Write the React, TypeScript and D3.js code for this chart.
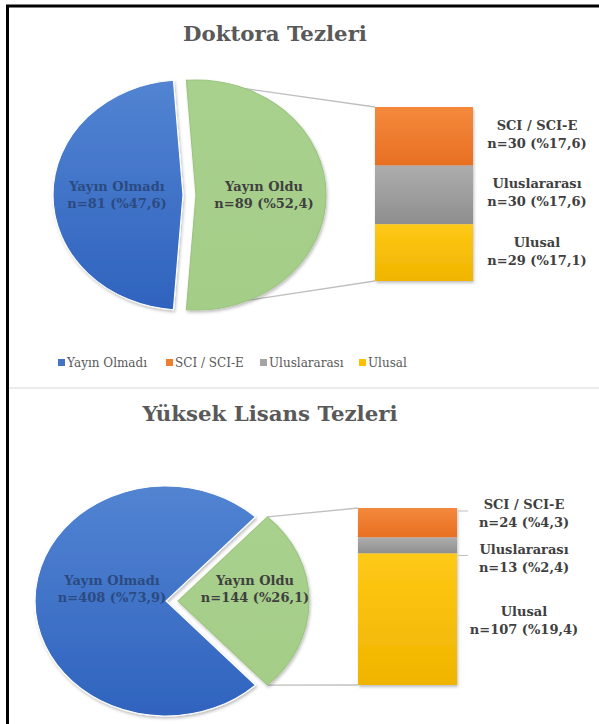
import React from "react";
import * as d3 from "d3";

// ---------- data ----------
const chartTitles = ["Doktora Tezleri", "Yüksek Lisans Tezleri"];
const pieCategories = ["Yayın Olmadı", "Yayın Oldu"];
const barCategories = ["SCI / SCI-E", "Uluslararası", "Ulusal"];
const legendLabels = ["Yayın Olmadı", "SCI / SCI-E", "Uluslararası", "Ulusal"];

const doktoraPieValues = [81, 89];
const doktoraPiePct = ["47,6", "52,4"];
const doktoraBarValues = [30, 30, 29];
const doktoraBarPct = ["17,6", "17,6", "17,1"];

const ylPieValues = [408, 144];
const ylPiePct = ["73,9", "26,1"];
const ylBarValues = [24, 13, 107];
const ylBarPct = ["4,3", "2,4", "19,4"];

// ---------- styling / layout ----------
const W = 599;
const H = 724;
const FONT = "'DejaVu Serif', 'Liberation Serif', serif";
const pieFills = ["url(#gBlue)", "url(#gGreen)"];
const barFills = ["url(#gOrange)", "url(#gGray)", "url(#gYellow)"];
const legendColors = ["#4472C4", "#ED7D31", "#A5A5A5", "#FFC000"];

type Layout = {
  titleX: number; titleY: number;
  cx: number; cy: number; rx: number; ry: number; explode: number;
  barX: number; barW: number; barTop: number; barBottom: number;
  labelX: number; labelDy: number[];
  pieLabelPos: { x: number; y: number }[];
  leaders: boolean;
};

const layouts: Layout[] = [
  {
    titleX: 275, titleY: 33,
    cx: 183, cy: 195, rx: 130, ry: 115, explode: 13,
    barX: 375, barW: 98, barTop: 107, barBottom: 281,
    labelX: 537, labelDy: [-2, -2, -1],
    pieLabelPos: [{ x: 117, y: 195 }, { x: 264, y: 195 }],
    leaders: false,
  },
  {
    titleX: 270, titleY: 413,
    cx: 166, cy: 601, rx: 131, ry: 115, explode: 12,
    barX: 358, barW: 99, barTop: 508, barBottom: 685,
    labelX: 524, labelDy: [-9, 13, 1],
    pieLabelPos: [{ x: 112, y: 589 }, { x: 255, y: 589 }],
    leaders: true,
  },
];

function PieOfBar({ pieValues, piePct, barValues, barPct, title, L }: {
  pieValues: number[]; piePct: string[]; barValues: number[]; barPct: string[]; title: string; L: Layout;
}) {
  const total = d3.sum(pieValues);
  const pGreen = pieValues[1] / total;
  // green slice (second category) centered at 3 o'clock
  const start = Math.PI / 2 - Math.PI * pGreen;
  const pie = d3.pie<number>().sort(null).startAngle(start).endAngle(start + 2 * Math.PI);
  const arcsData = pie([pieValues[1], pieValues[0]]);
  const greenArc = arcsData[0];
  const blueArc = arcsData[1];
  const arc = d3.arc<d3.PieArcDatum<number>>().innerRadius(0).outerRadius(L.ry);
  const k = L.rx / L.ry;
  const gcx = L.cx + L.explode;

  const pt = (a: number) => [gcx + L.rx * Math.sin(a), L.cy - L.ry * Math.cos(a)];
  const pStart = pt(greenArc.startAngle);
  const pEnd = pt(greenArc.endAngle);

  const y = d3.scaleLinear().domain([0, d3.sum(barValues)]).range([L.barTop, L.barBottom]);
  const cum = d3.cumsum(barValues);
  const segs = barValues.map((v, i) => ({ y0: y(cum[i] - v), y1: y(cum[i]) }));

  return (
    <g>
      <text x={L.titleX} y={L.titleY} textAnchor="middle" dominantBaseline="central" fontFamily={FONT} fontWeight="bold" fontSize={21.3} fill="#595959">{title}</text>
      {/* connectors */}
      <line x1={pStart[0]} y1={pStart[1]} x2={L.barX} y2={L.barTop} stroke="#BFBFBF" strokeWidth={1.3} />
      <line x1={pEnd[0]} y1={pEnd[1]} x2={L.barX} y2={L.barBottom} stroke="#BFBFBF" strokeWidth={1.3} />
      {/* pie */}
      <g transform={`translate(${L.cx},${L.cy}) scale(${k},1)`} filter="url(#shadow)">
        <path d={arc(blueArc) || ""} fill={pieFills[0]} stroke="#ffffff" strokeWidth={1} />
      </g>
      <g transform={`translate(${gcx},${L.cy}) scale(${k},1)`} filter="url(#shadow)">
        <path d={arc(greenArc) || ""} fill={pieFills[1]} stroke="#9CC47F" strokeWidth={1} />
      </g>
      {/* pie labels */}
      {pieCategories.map((c, i) => (
        <text key={c} x={L.pieLabelPos[i].x} y={L.pieLabelPos[i].y} textAnchor="middle" fontFamily={FONT} fontWeight="bold" fontSize={13} fill={i === 0 ? "#2B4A80" : "#3F3F3F"}>
          <tspan x={L.pieLabelPos[i].x} dy={-4}>{c}</tspan>
          <tspan x={L.pieLabelPos[i].x} dy={17}>{`n=${pieValues[i]} (%${piePct[i]})`}</tspan>
        </text>
      ))}
      {/* bar */}
      <g filter="url(#shadow)">
        {segs.map((s, i) => (
          <rect key={i} x={L.barX} y={s.y0} width={L.barW} height={s.y1 - s.y0} fill={barFills[i]} />
        ))}
      </g>
      {L.leaders && (
        <g stroke="#BFBFBF" strokeWidth={1}>
          <line x1={L.barX + L.barW + 1} x2={L.barX + L.barW + 11} y1={segs[0].y0 + 3} y2={segs[0].y0 + 3} />
          <line x1={L.barX + L.barW + 1} x2={L.barX + L.barW + 11} y1={segs[1].y1 + 2} y2={segs[1].y1 + 2} />
        </g>
      )}
      {barCategories.map((c, i) => {
        const cyl = (segs[i].y0 + segs[i].y1) / 2 + L.labelDy[i];
        return (
          <text key={c} textAnchor="middle" fontFamily={FONT} fontWeight="bold" fontSize={13} fill="#404040">
            <tspan x={L.labelX} y={cyl - 4.5}>{c}</tspan>
            <tspan x={L.labelX} y={cyl + 13.5}>{`n=${barValues[i]} (%${barPct[i]})`}</tspan>
          </text>
        );
      })}
    </g>
  );
}

const legendX = [58, 166, 260, 359];

export default function App() {
  return (
    <svg width={W} height={H} viewBox={`0 0 ${W} ${H}`} style={{ position: "absolute", left: 0, top: 0, background: "#fff" }}>
      <defs>
        <linearGradient id="gBlue" x1="0" y1="0" x2="0" y2="1">
          <stop offset="0%" stopColor="#5284D2" />
          <stop offset="100%" stopColor="#2F63BE" />
        </linearGradient>
        <linearGradient id="gGreen" x1="0" y1="0" x2="0" y2="1">
          <stop offset="0%" stopColor="#A9D18E" />
          <stop offset="100%" stopColor="#A4CD88" />
        </linearGradient>
        <linearGradient id="gOrange" x1="0" y1="0" x2="0" y2="1">
          <stop offset="0%" stopColor="#F4893C" />
          <stop offset="100%" stopColor="#E86F22" />
        </linearGradient>
        <linearGradient id="gGray" x1="0" y1="0" x2="0" y2="1">
          <stop offset="0%" stopColor="#ADADAD" />
          <stop offset="100%" stopColor="#8E8E8E" />
        </linearGradient>
        <linearGradient id="gYellow" x1="0" y1="0" x2="0" y2="1">
          <stop offset="0%" stopColor="#FFC916" />
          <stop offset="100%" stopColor="#F0B400" />
        </linearGradient>
        <filter id="shadow" x="-10%" y="-10%" width="120%" height="120%">
          <feDropShadow dx="1" dy="2" stdDeviation="1.5" floodColor="#000" floodOpacity="0.25" />
        </filter>
      </defs>
      <rect x={0} y={0} width={W} height={H} fill="#ffffff" />
      <PieOfBar title={chartTitles[0]} pieValues={doktoraPieValues} piePct={doktoraPiePct} barValues={doktoraBarValues} barPct={doktoraBarPct} L={layouts[0]} />
      {/* legend */}
      {legendLabels.map((l, i) => (
        <g key={l}>
          <rect x={legendX[i]} y={359} width={7} height={7} fill={legendColors[i]} />
          <text x={legendX[i] + 9} y={362.5} dominantBaseline="central" fontFamily={FONT} fontSize={12} fill="#595959">{l}</text>
        </g>
      ))}
      <line x1={8} x2={W} y1={388} y2={388} stroke="#D9D9D9" strokeWidth={1} />
      <PieOfBar title={chartTitles[1]} pieValues={ylPieValues} piePct={ylPiePct} barValues={ylBarValues} barPct={ylBarPct} L={layouts[1]} />
      {/* frame */}
      <path d={`M7.5,${H} V6 H${W}`} fill="none" stroke="#000" strokeWidth={3} />
    </svg>
  );
}
